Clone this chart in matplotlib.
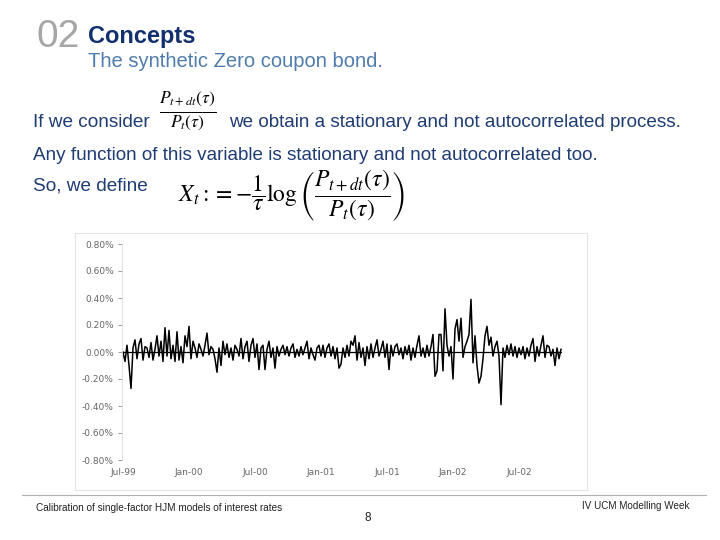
import numpy as np
import matplotlib
matplotlib.use('Agg')
import matplotlib.pyplot as plt
from matplotlib.patches import Rectangle
from matplotlib.lines import Line2D

# daily X_t values (in %) left to right
xt = [0.00, -0.07, 0.05, -0.10, -0.27, 0.03, 0.09, -0.05, 0.06, 0.10,
      -0.06, 0.04, 0.03, -0.04, 0.07, -0.06, 0.02, 0.12, -0.03, 0.08,
      -0.07, 0.18, -0.03, 0.16, -0.05, 0.05, -0.07, 0.15, -0.06, 0.04,
      -0.08, 0.12, 0.04, 0.19, -0.05, 0.08, 0.03, -0.04, 0.06, 0.02,
      -0.03, 0.05, 0.14, -0.02, 0.04, 0.02, -0.05, -0.15, 0.03, -0.10,
      0.08, -0.02, 0.06, -0.04, 0.03, -0.06, 0.05, 0.02, -0.03, 0.10,
      -0.05, 0.04, 0.08, -0.07, 0.05, 0.10, -0.04, 0.06, -0.13, 0.03,
      0.05, -0.13, 0.02, 0.08, -0.04, 0.03, -0.12, 0.04, -0.03, 0.02,
      0.05, -0.02, 0.04, -0.03, 0.03, 0.06, -0.04, 0.02, -0.03, 0.04,
      -0.02, 0.03, 0.08, -0.05, 0.03, -0.02, -0.06, 0.03, 0.05, -0.03,
      0.05, -0.04, 0.03, 0.06, -0.03, 0.04, -0.05, 0.03, -0.12, -0.09,
      0.03, -0.04, 0.05, -0.03, 0.08, 0.05, 0.12, -0.06, 0.07, -0.04,
      0.03, -0.10, 0.04, -0.05, 0.06, -0.04, 0.03, 0.09, -0.03, 0.02,
      0.08, -0.04, 0.06, -0.13, 0.05, -0.03, 0.04, 0.06, -0.02, 0.03,
      -0.05, 0.04, -0.02, 0.05, -0.06, 0.03, -0.04, 0.05, 0.12, -0.03,
      0.03, -0.04, 0.05, -0.03, 0.04, 0.13, -0.18, -0.14, 0.13, 0.13,
      -0.14, 0.32, 0.05, -0.03, 0.04, -0.20, 0.17, 0.24, 0.08, 0.25,
      -0.04, 0.04, 0.08, 0.13, 0.39, -0.08, 0.12, -0.10, -0.23, -0.18,
      -0.05, 0.12, 0.19, 0.05, 0.11, -0.03, 0.04, 0.08, -0.03, -0.39,
      0.03, -0.04, 0.05, -0.02, 0.06, -0.03, 0.04, -0.04, 0.03, -0.02,
      0.04, -0.05, 0.03, -0.03, 0.05, 0.10, -0.07, 0.04, -0.03, 0.05,
      0.12, -0.04, 0.05, 0.04, -0.03, 0.02, -0.10, 0.03, -0.05, 0.02]

date_labels = ['Jul-99', 'Jan-00', 'Jul-00', 'Jan-01', 'Jul-01', 'Jan-02', 'Jul-02']
date_idx = [0, 33, 66, 99, 132, 165, 198]
y_ticks = [0.8, 0.6, 0.4, 0.2, 0.0, -0.2, -0.4, -0.6, -0.8]

navy = '#1f3c73'
sans = 'Liberation Sans'
plt.rcParams['mathtext.fontset'] = 'stix'

fig = plt.figure(figsize=(7.2, 5.4), dpi=100)
W, H = 720, 540

def px(x, y):
    return x / W, 1 - y / H

# header
fig.text(*px(37, 47), '02', fontsize=28, color='#a6a6a6', family=sans, va='baseline')
fig.text(*px(88, 43), 'Concepts', fontsize=17, color='#13306e', family=sans,
         fontweight='bold', va='baseline')
fig.text(*px(88, 67), 'The synthetic Zero coupon bond.', fontsize=14.5, color='#4f7cac',
         family=sans, va='baseline')

# body text
fig.text(*px(33, 127), 'If we consider', fontsize=13.7, color=navy, family=sans, va='baseline')
fig.text(*px(188, 111), r'$\frac{P_{t+dt}(\tau)}{P_t(\tau)}$', fontsize=18, color='black',
         ha='center', va='center')
fig.text(*px(229, 127), 'we obtain a stationary and not autocorrelated process.', fontsize=13.6,
         color=navy, family=sans, va='baseline')
fig.text(*px(33, 160), 'Any function of this variable is stationary and not autocorrelated too.',
         fontsize=13.6, color=navy, family=sans, va='baseline')
fig.text(*px(33, 191), 'So, we define', fontsize=13.7, color=navy, family=sans, va='baseline')
fig.text(*px(178, 196),
         r'$X_t := -\dfrac{1}{\tau}\log\left(\dfrac{P_{t+dt}(\tau)}{P_t(\tau)}\right)$',
         fontsize=17, color='black', ha='left', va='center')

# chart frame
fig.patches.append(Rectangle(px(75, 490), 512 / W, 257 / H, transform=fig.transFigure,
                             fill=False, edgecolor='#e4e4e4', linewidth=0.8))

ax = fig.add_axes([122 / W, 1 - 460 / H, 440 / W, 216 / H])
ax.plot(range(len(xt)), xt, color='black', linewidth=1.1)
ax.axhline(0, color='black', linewidth=0.9)
ax.set_xlim(-0.5, len(xt) - 0.5)
ax.set_ylim(-0.8, 0.8)
ax.set_yticks(y_ticks)
ax.set_yticklabels(['%.2f%%' % v for v in y_ticks], fontsize=6.5, color='#666666')
ax.set_xticks(date_idx)
ax.set_xticklabels(date_labels, fontsize=6.5, color='#666666')
ax.tick_params(axis='y', length=3, width=0.6, color='#888888', pad=3)
ax.tick_params(axis='x', length=0, pad=6)
for s in ['top', 'right', 'bottom']:
    ax.spines[s].set_visible(False)
ax.spines['left'].set_color('#dddddd')
ax.spines['left'].set_linewidth(0.6)
ax.patch.set_visible(False)

# footer
fig.add_artist(Line2D([22 / W, 706 / W], [1 - 495 / H, 1 - 495 / H], transform=fig.transFigure,
                      color='#b0b0b0', linewidth=0.8))
fig.text(*px(36, 511), 'Calibration of single-factor HJM models of interest rates', fontsize=7.2,
         color='#222222', family=sans, va='baseline')
fig.text(*px(690, 509), 'IV UCM Modelling Week', fontsize=7.1, color='#222222', family=sans,
         ha='right', va='baseline')
fig.text(*px(368, 518), '8', fontsize=8.5, color='#222222', family=sans, ha='center', va='center')

fig.savefig('out.png', dpi=100)
